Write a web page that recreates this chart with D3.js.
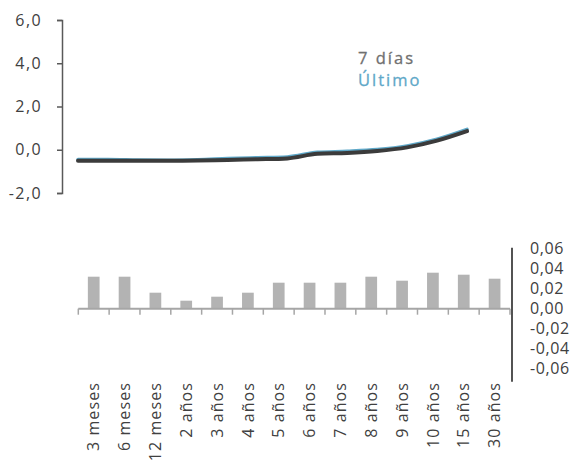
<!DOCTYPE html>
<html>
<head>
<meta charset="utf-8">
<script src="https://cdn.jsdelivr.net/npm/d3@7"></script>
<style>
  html, body { margin: 0; padding: 0; background: #ffffff; }
  svg { display: block; font-family: "Open Sans", "Noto Sans", sans-serif; }
</style>
</head>
<body>
<svg id="chart" width="577" height="464"></svg>
<script>
// Plazos de la curva
const categories = ["3 meses", "6 meses", "12 meses", "2 años", "3 años", "4 años", "5 años",
                    "6 años", "7 años", "8 años", "9 años", "10 años", "15 años", "30 años"];

// Curva hace 7 días y última (%)
const curve7dias  = [-0.51, -0.51, -0.51, -0.51, -0.50, -0.47, -0.44, -0.40, -0.19, -0.15, -0.06, 0.11, 0.42, 0.86];
const curveUltimo = [-0.45, -0.45, -0.47, -0.48, -0.46, -0.41, -0.37, -0.33, -0.12, -0.07, 0.01, 0.18, 0.49, 0.94];

// Variación semanal (barras)
const variacion = [0.032, 0.032, 0.016, 0.008, 0.012, 0.016, 0.026, 0.026, 0.026, 0.032, 0.028, 0.036, 0.034, 0.030];

// Marcas de los ejes
const topTicks = [-2, 0, 2, 4, 6];
const barTicks = [-0.06, -0.04, -0.02, 0, 0.02, 0.04, 0.06];

const seriesNames = ["7 días", "Último"];

const locale = d3.formatLocale({ decimal: ",", thousands: ".", grouping: [3], currency: ["", "€"], minus: "-" });
const fmt1 = locale.format(".1f");
const fmt2 = locale.format(".2f");

const svg = d3.select("#chart");
const textColor = "#404040";

// ---------- Gráfico superior: curvas ----------
const xTop = d3.scalePoint().domain(categories).range([78, 467]);
const yTop = d3.scaleLinear().domain([-2, 6]).range([193, 20]);

const topAxis = svg.append("g")
  .attr("transform", "translate(62,0)")
  .call(d3.axisLeft(yTop).tickValues(topTicks).tickSize(5).tickPadding(15).tickFormat(fmt1));
topAxis.select(".domain").attr("stroke", "#595959").attr("stroke-width", 1.5);
topAxis.selectAll(".tick line").attr("stroke", "#595959").attr("stroke-width", 1.5);
topAxis.selectAll(".tick text")
  .attr("fill", textColor)
  .attr("font-size", 16)
  .attr("letter-spacing", 1.4)
  .attr("font-family", "Open Sans, Noto Sans, sans-serif");

const line = d3.line()
  .x((d, i) => xTop(categories[i]))
  .y(d => yTop(d))
  .curve(d3.curveMonotoneX);

svg.append("path")
  .datum(curveUltimo)
  .attr("fill", "none")
  .attr("stroke", "#5fa8c8")
  .attr("stroke-width", 3.5)
  .attr("stroke-linecap", "round")
  .attr("d", line);

svg.append("path")
  .datum(curve7dias)
  .attr("fill", "none")
  .attr("stroke", "#3b3b3b")
  .attr("stroke-width", 4)
  .attr("stroke-linecap", "round")
  .attr("d", line);

// Leyenda
const legendColors = ["#707070", "#5fa8c8"];
svg.selectAll("text.legend")
  .data(seriesNames)
  .join("text")
  .attr("class", "legend")
  .attr("x", 358)
  .attr("y", (d, i) => 64 + i * 22)
  .attr("fill", (d, i) => legendColors[i])
  .attr("stroke", (d, i) => legendColors[i])
  .attr("stroke-width", 0.3)
  .attr("font-size", 16.5)
  .attr("letter-spacing", 2)
  .text(d => d);

// ---------- Gráfico inferior: variación ----------
const xBar = d3.scaleBand().domain(categories).range([78.3, 510]).paddingInner(0.62).paddingOuter(0.31);
const yBar = d3.scaleLinear().domain([-0.06, 0.06]).range([368.7, 248.7]);

svg.append("g")
  .selectAll("rect")
  .data(variacion)
  .join("rect")
  .attr("x", (d, i) => xBar(categories[i]))
  .attr("width", xBar.bandwidth())
  .attr("y", d => yBar(Math.max(0, d)))
  .attr("height", d => Math.abs(yBar(d) - yBar(0)))
  .attr("fill", "#b3b3b3");

// Eje de categorías con marcas entre barras
const step = xBar.step();
const x0 = xBar.range()[0];
const boundaries = d3.range(categories.length + 1).map(i => x0 + i * step);
const baseY = yBar(0);
svg.append("line")
  .attr("x1", x0).attr("x2", boundaries[boundaries.length - 1])
  .attr("y1", baseY).attr("y2", baseY)
  .attr("stroke", "#a6a6a6").attr("stroke-width", 2);
svg.append("g")
  .selectAll("line")
  .data(boundaries)
  .join("line")
  .attr("x1", d => d).attr("x2", d => d)
  .attr("y1", baseY).attr("y2", baseY + 6)
  .attr("stroke", "#a6a6a6").attr("stroke-width", 1.5);

// Etiquetas de plazo, giradas
svg.append("g")
  .selectAll("text")
  .data(categories)
  .join("text")
  .attr("transform", d => `translate(${xBar(d) + xBar.bandwidth() / 2},382) rotate(-90)`)
  .attr("text-anchor", "end")
  .attr("dy", "0.35em")
  .attr("fill", textColor)
  .attr("font-size", 16)
  .attr("letter-spacing", 1.1)
  .text(d => d);

// Eje derecho de la variación
const rightAxis = svg.append("g")
  .attr("transform", "translate(512,0)")
  .call(d3.axisRight(yBar).tickValues(barTicks).tickSize(0).tickPadding(18).tickFormat(fmt2));
rightAxis.select(".domain").remove();
rightAxis.selectAll(".tick text")
  .attr("fill", textColor)
  .attr("font-size", 16)
  .attr("letter-spacing", 0.6)
  .attr("font-family", "Open Sans, Noto Sans, sans-serif");
svg.append("line")
  .attr("x1", 512).attr("x2", 512)
  .attr("y1", yBar(0.061)).attr("y2", yBar(-0.073))
  .attr("stroke", "#404040").attr("stroke-width", 1.8);
</script>
</body>
</html>
